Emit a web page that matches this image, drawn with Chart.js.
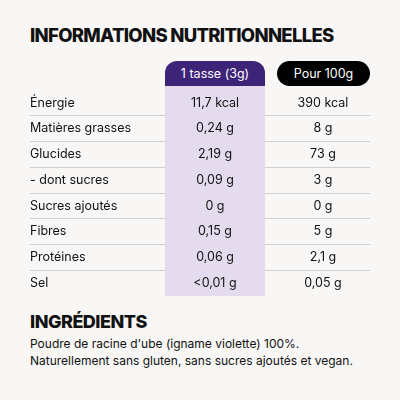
<!DOCTYPE html>
<html><head><meta charset="utf-8">
<script src="https://cdn.jsdelivr.net/npm/chart.js@4"></script>
<style>
body{margin:0;background:#f8f7f5;font-family:Inter,sans-serif;color:#111;}
#wrap{position:relative;width:400px;height:400px;}
h1{position:absolute;left:30px;top:24px;margin:0;font-size:18.5px;font-weight:800;letter-spacing:-0.7px;}
h2{position:absolute;left:30px;top:311px;margin:0;font-size:18px;font-weight:800;letter-spacing:-0.5px;}
.pill{position:absolute;top:61px;height:25px;line-height:25px;text-align:center;font-size:12.5px;color:#fff;}
#p1{left:165px;width:100px;background:#3e2478;border-radius:12px 12px 0 0;}
#p2{left:277px;width:93px;background:#000;border-radius:13px;}
p{position:absolute;left:30px;top:335px;margin:0;font-size:12px;line-height:17px;}
#c{position:absolute;left:0;top:86px;}
</style></head><body>
<div id="wrap">
<h1>INFORMATIONS NUTRITIONNELLES</h1>
<div class="pill" id="p1">1 tasse (3g)</div>
<div class="pill" id="p2">Pour 100g</div>
<div id="c"><canvas id="chart" width="400" height="210"></canvas></div>
<h2>INGRÉDIENTS</h2>
<p>Poudre de racine d'ube (igname violette) 100%.<br>Naturellement sans gluten, sans sucres ajoutés et vegan.</p>
</div>
<script>
const nutrients = ["Énergie","Matières grasses","Glucides","- dont sucres","Sucres ajoutés","Fibres","Protéines","Sel"];
const perServing = ["11,7 kcal","0,24 g","2,19 g","0,09 g","0 g","0,15 g","0,06 g","<0,01 g"];
const per100 = ["390 kcal","8 g","73 g","3 g","0 g","5 g","2,1 g","0,05 g"];

const cellText = {
  id: "cellText",
  beforeDatasetsDraw(c) {
    const ctx = c.ctx, x = c.scales.x;
    ctx.save();
    ctx.fillStyle = "#e4dcee";
    ctx.fillRect(x.getPixelForValue(1.35), 0, 100, c.height);
    ctx.restore();
  },
  afterDraw(c) {
    const ctx = c.ctx, x = c.scales.x, y = c.scales.y;
    ctx.save();
    ctx.font = "12.5px Inter";
    ctx.fillStyle = "#111";
    ctx.textAlign = "center";
    ctx.textBaseline = "middle";
    nutrients.forEach((n, i) => {
      const py = y.getPixelForValue(i);
      ctx.fillText(perServing[i], x.getPixelForValue(1.85), py);
      ctx.fillText(per100[i], x.getPixelForValue(2.93), py);
    });
    ctx.restore();
  }
};

new Chart(document.getElementById("chart"), {
  type: "bar",
  data: { labels: nutrients, datasets: [{ data: nutrients.map(() => null) }] },
  options: {
    indexAxis: "y",
    responsive: false,
    animation: false,
    layout: { padding: { left: 30, right: 30, top: 4, bottom: 0 } },
    plugins: { legend: { display: false }, tooltip: { enabled: false } },
    scales: {
      x: { display: false, min: 0, max: 3.4 },
      y: {
        position: "left",
        afterFit(s) { s.width = 0; s.paddingTop = 0; s.paddingBottom = 0; },
        border: { display: false },
        grid: { offset: true, drawTicks: false,
          color: (g) => (g.index === 0 || g.index === nutrients.length) ? "rgba(0,0,0,0)" : "#cfcfcf" },
        ticks: { mirror: true, padding: 0, color: "#111", font: { family: "Inter", size: 12.5 } }
      }
    }
  },
  plugins: [cellText]
});
</script>
</body></html>
